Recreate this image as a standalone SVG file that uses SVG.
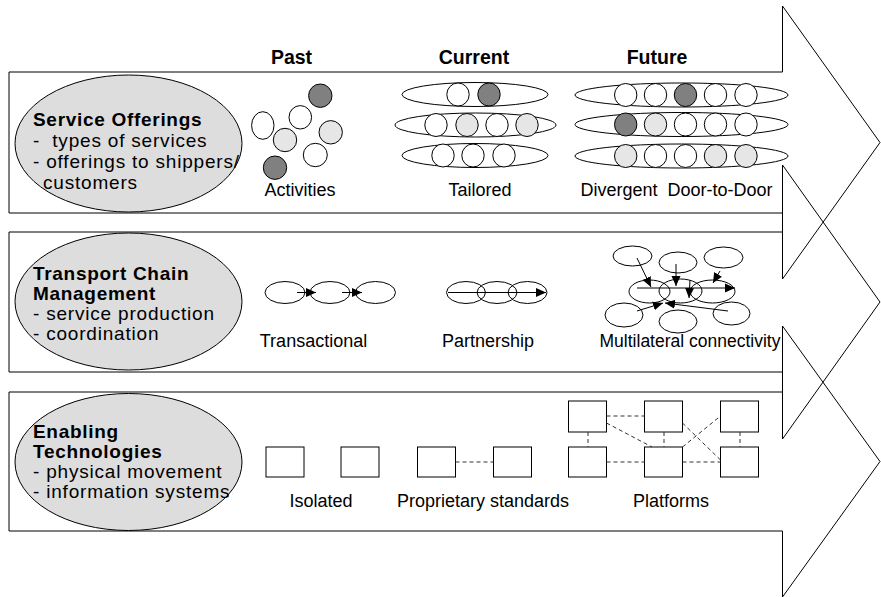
<svg xmlns="http://www.w3.org/2000/svg" width="881" height="597" viewBox="0 0 881 597">
<style>
text{font-family:"Liberation Sans",Arial,sans-serif;fill:#000}
.h{font-size:19.5px;font-weight:bold;text-anchor:middle}
.lb{font-size:19px;font-weight:bold;letter-spacing:0.7px}
.lt{font-size:19px;letter-spacing:0.8px}
.c{font-size:18px;text-anchor:middle}
.arrow{fill:none;stroke:#000;stroke-width:1}
.big{fill:#dddddd;stroke:#000;stroke-width:1}
.o{fill:none;stroke:#000;stroke-width:1}
.w{fill:#fff;stroke:#000;stroke-width:1}
.d{fill:#808080;stroke:#000;stroke-width:1}
.l{fill:#e6e6e6;stroke:#000;stroke-width:1}
.bx{fill:#fff;stroke:#000;stroke-width:1}
.ds{fill:none;stroke:#333;stroke-width:1;stroke-dasharray:4 3}
.ln{fill:none;stroke:#000;stroke-width:1;marker-end:url(#ah)}
</style>
<defs>
<marker id="ah" markerUnits="userSpaceOnUse" markerWidth="10" markerHeight="10" viewBox="0 0 10 10" refX="10" refY="5" orient="auto">
<path d="M0,0.5 L10,5 L0,9.5 Z" fill="#000"/>
</marker>
</defs>

<g id="arrows">
<path id="arrow1" class="arrow" d="M9,72 H782.5 V6 L880,142.5 L782.5,279 V213 H9 Z"/>
<path id="arrow2" class="arrow" d="M9,232 H782.5 V165 L880,302 L782.5,439 V372 H9 Z"/>
<path id="arrow3" class="arrow" d="M9,392 H782.5 V326 L880,461.5 L782.5,597 V531 H9 Z"/>
</g>

<g id="headers">
<text class="h" x="291.5" y="64">Past</text>
<text class="h" x="474" y="64">Current</text>
<text class="h" x="657" y="64">Future</text>
</g>

<g id="service-offerings">
<ellipse class="big" cx="128.5" cy="143.5" rx="113.5" ry="68.5"/>
<text class="lb" x="33" y="126">Service Offerings</text>
<text class="lt" x="33" y="147" xml:space="preserve">-  types of services</text>
<text class="lt" x="33" y="168">- offerings to shippers/</text>
<text class="lt" x="43" y="189">customers</text>
</g>

<g id="transport-chain">
<ellipse class="big" cx="128.5" cy="301.5" rx="113.5" ry="68.5"/>
<text class="lb" x="33" y="280">Transport Chain</text>
<text class="lb" x="33" y="300">Management</text>
<text class="lt" x="33" y="320">- service production</text>
<text class="lt" x="33" y="340">- coordination</text>
</g>

<g id="enabling-tech">
<ellipse class="big" cx="128.5" cy="462" rx="113.5" ry="68.5"/>
<text class="lb" x="33" y="438">Enabling</text>
<text class="lb" x="33" y="458">Technologies</text>
<text class="lt" x="33" y="478">- physical movement</text>
<text class="lt" x="33" y="498">- information systems</text>
</g>

<g id="activities">
<ellipse class="d" cx="320.3" cy="95.7" rx="11.7" ry="11.7"/>
<ellipse class="w" cx="262.8" cy="125.5" rx="11.2" ry="13.8"/>
<ellipse class="w" cx="300.3" cy="117.3" rx="11.3" ry="11.7"/>
<ellipse class="l" cx="285" cy="140" rx="11.7" ry="11.7"/>
<ellipse class="l" cx="330.7" cy="132.3" rx="11.7" ry="11.7"/>
<ellipse class="w" cx="315.3" cy="155" rx="12" ry="11.7"/>
<ellipse class="d" cx="275" cy="167.7" rx="11.7" ry="11.7"/>
<text class="c" x="300" y="196">Activities</text>
</g>

<g id="tailored">
<ellipse class="o" cx="475" cy="94.5" rx="73" ry="12"/>
<ellipse class="w" cx="458" cy="94.5" rx="11.2" ry="11.5"/>
<ellipse class="d" cx="489" cy="94.5" rx="11.2" ry="11.5"/>
<ellipse class="o" cx="475.5" cy="125" rx="80.5" ry="12"/>
<ellipse class="w" cx="436" cy="125" rx="11.2" ry="11.5"/>
<ellipse class="l" cx="467" cy="125" rx="11.2" ry="11.5"/>
<ellipse class="w" cx="497" cy="125" rx="11.2" ry="11.5"/>
<ellipse class="l" cx="527" cy="125" rx="11.2" ry="11.5"/>
<ellipse class="o" cx="475" cy="155.5" rx="73" ry="12"/>
<ellipse class="w" cx="443" cy="155.5" rx="11.2" ry="11.5"/>
<ellipse class="w" cx="473" cy="155.5" rx="11.2" ry="11.5"/>
<ellipse class="w" cx="504" cy="155.5" rx="11.2" ry="11.5"/>
<text class="c" x="480" y="196">Tailored</text>
</g>

<g id="divergent">
<ellipse class="o" cx="681.5" cy="95" rx="106.5" ry="12"/>
<ellipse class="w" cx="625.7" cy="95" rx="11.2" ry="11.5"/>
<ellipse class="w" cx="655.5" cy="95" rx="11.2" ry="11.5"/>
<ellipse class="d" cx="685.5" cy="95" rx="11.2" ry="11.5"/>
<ellipse class="w" cx="715.5" cy="95" rx="11.2" ry="11.5"/>
<ellipse class="w" cx="746" cy="95" rx="11.2" ry="11.5"/>
<ellipse class="o" cx="681.5" cy="124.5" rx="106.5" ry="12"/>
<ellipse class="d" cx="625.7" cy="124.5" rx="11.2" ry="11.5"/>
<ellipse class="l" cx="655.5" cy="124.5" rx="11.2" ry="11.5"/>
<ellipse class="w" cx="685.5" cy="124.5" rx="11.2" ry="11.5"/>
<ellipse class="w" cx="715.5" cy="124.5" rx="11.2" ry="11.5"/>
<ellipse class="w" cx="746" cy="124.5" rx="11.2" ry="11.5"/>
<ellipse class="o" cx="681.5" cy="156" rx="106.5" ry="12"/>
<ellipse class="l" cx="625.7" cy="156" rx="11.2" ry="11.5"/>
<ellipse class="w" cx="655.5" cy="156" rx="11.2" ry="11.5"/>
<ellipse class="w" cx="685.5" cy="156" rx="11.2" ry="11.5"/>
<ellipse class="l" cx="715.5" cy="156" rx="11.2" ry="11.5"/>
<ellipse class="l" cx="746" cy="156" rx="11.2" ry="11.5"/>
<text class="c" x="676.5" y="196" xml:space="preserve">Divergent  Door-to-Door</text>
</g>

<g id="transactional">
<ellipse class="o" cx="285" cy="292.5" rx="20" ry="11"/>
<ellipse class="o" cx="330" cy="292.5" rx="20" ry="11"/>
<ellipse class="o" cx="375.5" cy="292.5" rx="20" ry="11"/>
<text class="c" x="313.5" y="347">Transactional</text>
</g>

<g id="partnership">
<ellipse class="o" cx="466" cy="292.5" rx="19.5" ry="11"/>
<ellipse class="o" cx="497" cy="292.5" rx="20" ry="11"/>
<ellipse class="o" cx="527.5" cy="292.5" rx="19.5" ry="11"/>
<text class="c" x="488" y="347">Partnership</text>
</g>

<g id="multilateral">
<ellipse class="o" cx="632.5" cy="256" rx="19.5" ry="10"/>
<ellipse class="o" cx="678" cy="262.5" rx="19" ry="10.5"/>
<ellipse class="o" cx="723.5" cy="257.5" rx="19.5" ry="10.5"/>
<ellipse class="o" cx="649.5" cy="291.5" rx="20.5" ry="11.5"/>
<ellipse class="o" cx="680.5" cy="291" rx="21.5" ry="12"/>
<ellipse class="o" cx="712.5" cy="291.5" rx="22.5" ry="11.5"/>
<ellipse class="o" cx="624" cy="315" rx="19" ry="12"/>
<ellipse class="o" cx="678" cy="321.5" rx="19" ry="11.5"/>
<ellipse class="o" cx="731.5" cy="313.5" rx="18.5" ry="11.5"/>
<text class="c" x="690" y="347" style="font-size:17.5px">Multilateral connectivity</text>
</g>

<g id="isolated">
<rect class="bx" x="266" y="447" width="38" height="30"/>
<rect class="bx" x="341" y="447" width="38" height="30"/>
<text class="c" x="321" y="507">Isolated</text>
</g>

<g id="proprietary">
<rect class="bx" x="417.5" y="447" width="38" height="30"/>
<rect class="bx" x="493.5" y="447" width="38" height="30"/>
<text class="c" x="483" y="507">Proprietary standards</text>
</g>

<g id="platforms">
<rect class="bx" x="568.5" y="401" width="38" height="31"/>
<rect class="bx" x="644.5" y="401" width="38" height="31"/>
<rect class="bx" x="720.5" y="401" width="38" height="31"/>
<rect class="bx" x="568.5" y="447" width="38" height="30"/>
<rect class="bx" x="644.5" y="447" width="38" height="30"/>
<rect class="bx" x="720.5" y="447" width="38" height="30"/>
<text class="c" x="671" y="507">Platforms</text>
</g>

<g id="connectors">
<line class="ln" x1="297" y1="292.5" x2="316" y2="292.5"/>
<line class="ln" x1="342" y1="292.5" x2="362" y2="292.5"/>
<line class="ln" x1="448" y1="292.5" x2="546" y2="292.5"/>
<line class="ln" x1="637" y1="258" x2="651" y2="287"/>
<line class="ln" x1="676" y1="264" x2="676" y2="286"/>
<line class="ln" x1="720" y1="271" x2="713" y2="283"/>
<line class="ln" x1="637" y1="288" x2="735" y2="288"/>
<line class="ln" x1="690" y1="280" x2="689" y2="298"/>
<line class="ln" x1="637" y1="311" x2="663" y2="303"/>
<line class="ln" x1="728" y1="311" x2="665" y2="303"/>
<line class="ds" x1="455.5" y1="462" x2="493.5" y2="462"/>
<line class="ds" x1="606.5" y1="416" x2="644.5" y2="416"/>
<line class="ds" x1="606.5" y1="462" x2="644.5" y2="462"/>
<line class="ds" x1="682.5" y1="462" x2="720.5" y2="462"/>
<line class="ds" x1="588" y1="432" x2="588" y2="447"/>
<line class="ds" x1="664" y1="432" x2="664" y2="447"/>
<line class="ds" x1="740" y1="432" x2="740" y2="447"/>
<line class="ds" x1="606.5" y1="423" x2="652" y2="447"/>
<line class="ds" x1="682.5" y1="423" x2="720.5" y2="460"/>
<line class="ds" x1="682.5" y1="447" x2="720.5" y2="416"/>
</g>
</svg>
